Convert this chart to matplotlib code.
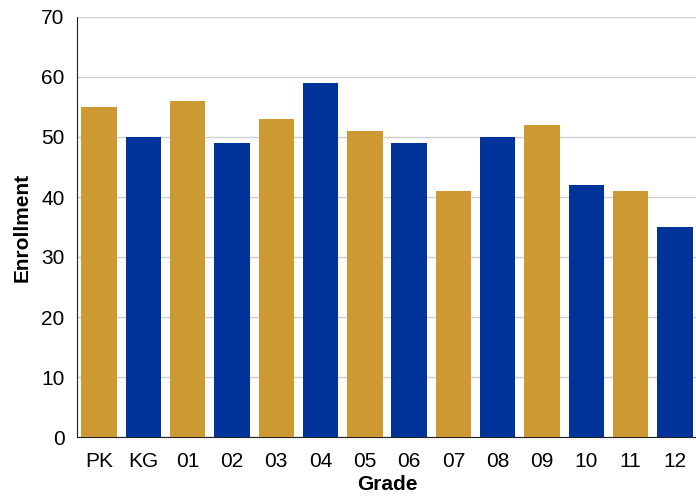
import matplotlib
matplotlib.use('Agg')
import matplotlib.pyplot as plt

plt.rcParams['font.family'] = ['Liberation Sans', 'DejaVu Sans']

# Données
grades = ['PK', 'KG', '01', '02', '03', '04', '05', '06', '07', '08', '09', '10', '11', '12']
enrollment = [55, 50, 56, 49, 53, 59, 51, 49, 41, 50, 52, 42, 41, 35]
gold = '#CC9933'
blue = '#003399'
colors = [gold if i % 2 == 0 else blue for i in range(len(grades))]

fig = plt.figure(figsize=(6.96, 4.98), dpi=100)
ax = fig.add_axes([77 / 696, 1 - 437 / 498, 620 / 696, 420 / 498])

ax.bar(range(len(grades)), enrollment, width=0.8, color=colors, zorder=3)

ax.set_xlim(-0.5, len(grades) - 0.5)
ax.set_ylim(0, 70)
ax.set_yticks(range(0, 71, 10))
ax.set_xticks(range(len(grades)))
ax.set_xticklabels(grades)
ax.tick_params(axis='both', length=0, labelsize=15)
ax.tick_params(axis='x', pad=11)
ax.tick_params(axis='y', pad=9)
ax.grid(axis='y', color='#d0d0d0', linewidth=1, zorder=0)

for side in ['top', 'right']:
    ax.spines[side].set_visible(False)
ax.spines['left'].set_color('#222222')
ax.spines['bottom'].set_color('#222222')

ax.set_xlabel('Grade', fontsize=15, fontweight='bold', labelpad=3)
ax.set_ylabel('Enrollment', fontsize=15, fontweight='bold', labelpad=7)

fig.savefig('out.png', dpi=100)
